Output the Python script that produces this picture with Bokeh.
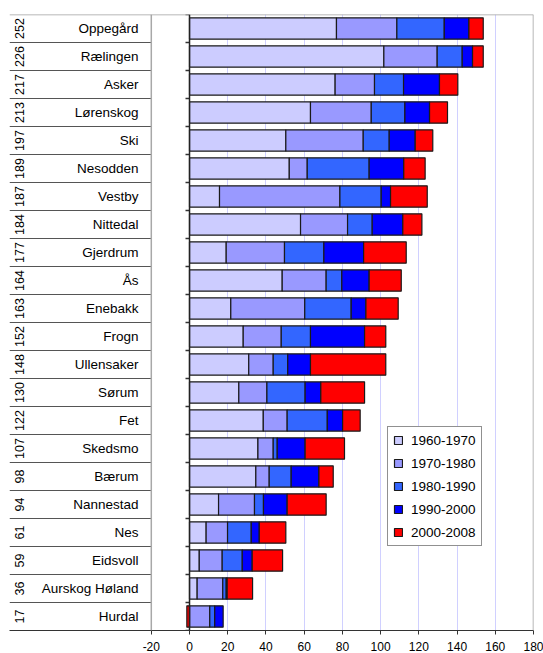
import numpy as np
from bokeh.plotting import figure
from bokeh.models import (Range1d, FixedTicker, Span, ColumnDataSource, Legend, LegendItem)
from bokeh.core.properties import value
from bokeh.embed import file_html
from bokeh.resources import INLINE

categories = ["Oppegård", "Rælingen", "Asker", "Lørenskog", "Ski", "Nesodden", "Vestby",
              "Nittedal", "Gjerdrum", "Ås", "Enebakk", "Frogn", "Ullensaker", "Sørum", "Fet",
              "Skedsmo", "Bærum", "Nannestad", "Nes", "Eidsvoll", "Aurskog Høland", "Hurdal"]
numbers = [252, 226, 217, 213, 197, 189, 187, 184, 177, 164, 163, 152, 148, 130, 122,
           107, 98, 94, 61, 59, 36, 17]

periods = ["1960-1970", "1970-1980", "1980-1990", "1990-2000", "2000-2008"]
p6070 = [76.9, 101.7, 76.2, 63.3, 50.4, 52.2, 15.7, 58.1, 19.2, 48.5, 21.6, 28.1, 31.0, 25.8, 38.6,
         35.8, 34.7, 15.2, 8.7, 5.1, 4.0, 0.0]
p7080 = [31.6, 27.9, 20.6, 31.8, 40.5, 9.4, 63.0, 24.6, 30.5, 23.0, 38.7, 19.9, 12.8, 14.7, 12.5,
         8.0, 7.0, 18.8, 11.2, 12.0, 13.4, 10.6]
p8090 = [24.8, 13.1, 15.2, 17.6, 13.6, 32.4, 21.6, 12.9, 20.6, 8.2, 24.3, 15.3, 7.6, 20.0, 21.0,
         2.1, 11.5, 4.7, 12.4, 10.5, 1.8, 2.6]
p9000 = [12.9, 5.4, 18.8, 12.9, 13.6, 18.1, 4.9, 16.0, 20.8, 14.3, 7.7, 28.3, 11.9, 8.2, 8.0,
         14.6, 14.5, 12.4, 4.2, 5.2, 0.5, 4.4]
p0008 = [7.5, 5.6, 9.6, 9.4, 9.2, 11.2, 19.2, 10.0, 22.3, 16.8, 16.9, 11.1, 39.4, 22.9, 9.2,
         20.6, 7.5, 20.4, 13.9, 15.9, 13.3, -1.4]
colors = ["#CCCCFF", "#9999FF", "#3366FF", "#0000FF", "#FF0000"]
x_ticks = [-20, 0, 20, 40, 60, 80, 100, 120, 140, 160, 180]

series = [p6070, p7080, p8090, p9000, p0008]
n = len(categories)
ys = [n - 0.5 - i for i in range(n)]

FONT = "Liberation Sans"
X_LEFT = -94.2

p = figure(width=543, height=653, x_range=Range1d(X_LEFT, 180), y_range=Range1d(0, n),
           output_backend="svg", toolbar_location=None,
           min_border_left=9, min_border_right=10, min_border_top=14, min_border_bottom=0)
p.outline_line_color = None
p.background_fill_color = "white"
p.border_fill_color = "white"
p.yaxis.visible = False
p.ygrid.visible = False

p.xaxis.ticker = FixedTicker(ticks=x_ticks)
p.xaxis.major_label_overrides = {t: str(t) for t in x_ticks}
p.xaxis.minor_tick_line_color = None
p.xaxis.major_tick_in = 0
p.xaxis.major_tick_out = 4
p.xaxis.axis_line_color = "#333333"
p.xaxis.major_tick_line_color = "#333333"
p.xaxis.major_label_text_font = FONT
p.xaxis.major_label_text_font_size = "12px"
p.xaxis.major_label_text_color = "black"
p.xaxis.major_label_standoff = 7

p.xgrid.ticker = FixedTicker(ticks=x_ticks[2:-1])
p.xgrid.grid_line_color = "#d0d0ff"
p.xgrid.grid_line_width = 1

# stacked bars (positives from 0 rightwards, negatives from 0 leftwards)
pos_base = np.zeros(n)
neg_base = np.zeros(n)
renderers = []
for vals, col in zip(series, colors):
    v = np.array(vals, dtype=float)
    left = np.where(v >= 0, pos_base, neg_base + v)
    right = np.where(v >= 0, pos_base + v, neg_base)
    pos_base = np.where(v >= 0, pos_base + v, pos_base)
    neg_base = np.where(v < 0, neg_base + v, neg_base)
    src = ColumnDataSource(dict(y=ys, left=left, right=right))
    r = p.hbar(y="y", left="left", right="right", height=0.76, source=src,
               fill_color=col, line_color="#1a1a1a", line_width=1.2)
    renderers.append(r)

# frame decorations
p.add_layout(Span(location=-20, dimension="height", line_color="#a8a8a8", line_width=1.5))
p.add_layout(Span(location=180, dimension="height", line_color="#a0a0a0", line_width=1.5))
p.add_layout(Span(location=n, dimension="width", line_color="#a0a0a0", line_width=1.5))
p.add_layout(Span(location=0, dimension="height", line_color="#222222", line_width=1.5))

bounds = list(range(0, n + 1))
p.segment(x0=[X_LEFT] * (n - 1), x1=[-20] * (n - 1), y0=bounds[1:-1], y1=bounds[1:-1],
          line_color="#555555", line_width=1)
p.segment(x0=[-2.1] * len(bounds), x1=[0] * len(bounds), y0=bounds, y1=bounds,
          line_color="#333333", line_width=1.5)

# left table texts
p.text(x=[-26.7] * n, y=ys, text=categories, text_font=value(FONT), text_font_size="13.5px",
       text_align="right", text_baseline="middle", text_color="black")
p.text(x=[-89.0] * n, y=ys, text=[str(v) for v in numbers], text_font=value(FONT),
       text_font_size="12.5px", text_align="center", text_baseline="middle",
       angle=np.pi / 2, text_color="black")

legend = Legend(items=[LegendItem(label=lab, renderers=[r]) for lab, r in zip(periods, renderers)],
                location=(378, 84))
legend.label_text_font = FONT
legend.label_text_font_size = "13.5px"
legend.label_text_color = "black"
legend.glyph_width = 10
legend.glyph_height = 10
legend.label_height = 16
legend.spacing = 7
legend.padding = 5
legend.margin = 0
legend.label_standoff = 8
legend.border_line_color = "#222222"
legend.border_line_width = 1
legend.background_fill_color = "white"
legend.background_fill_alpha = 1
p.add_layout(legend, "center")

open("out.html", "w").write(file_html(p, INLINE))
